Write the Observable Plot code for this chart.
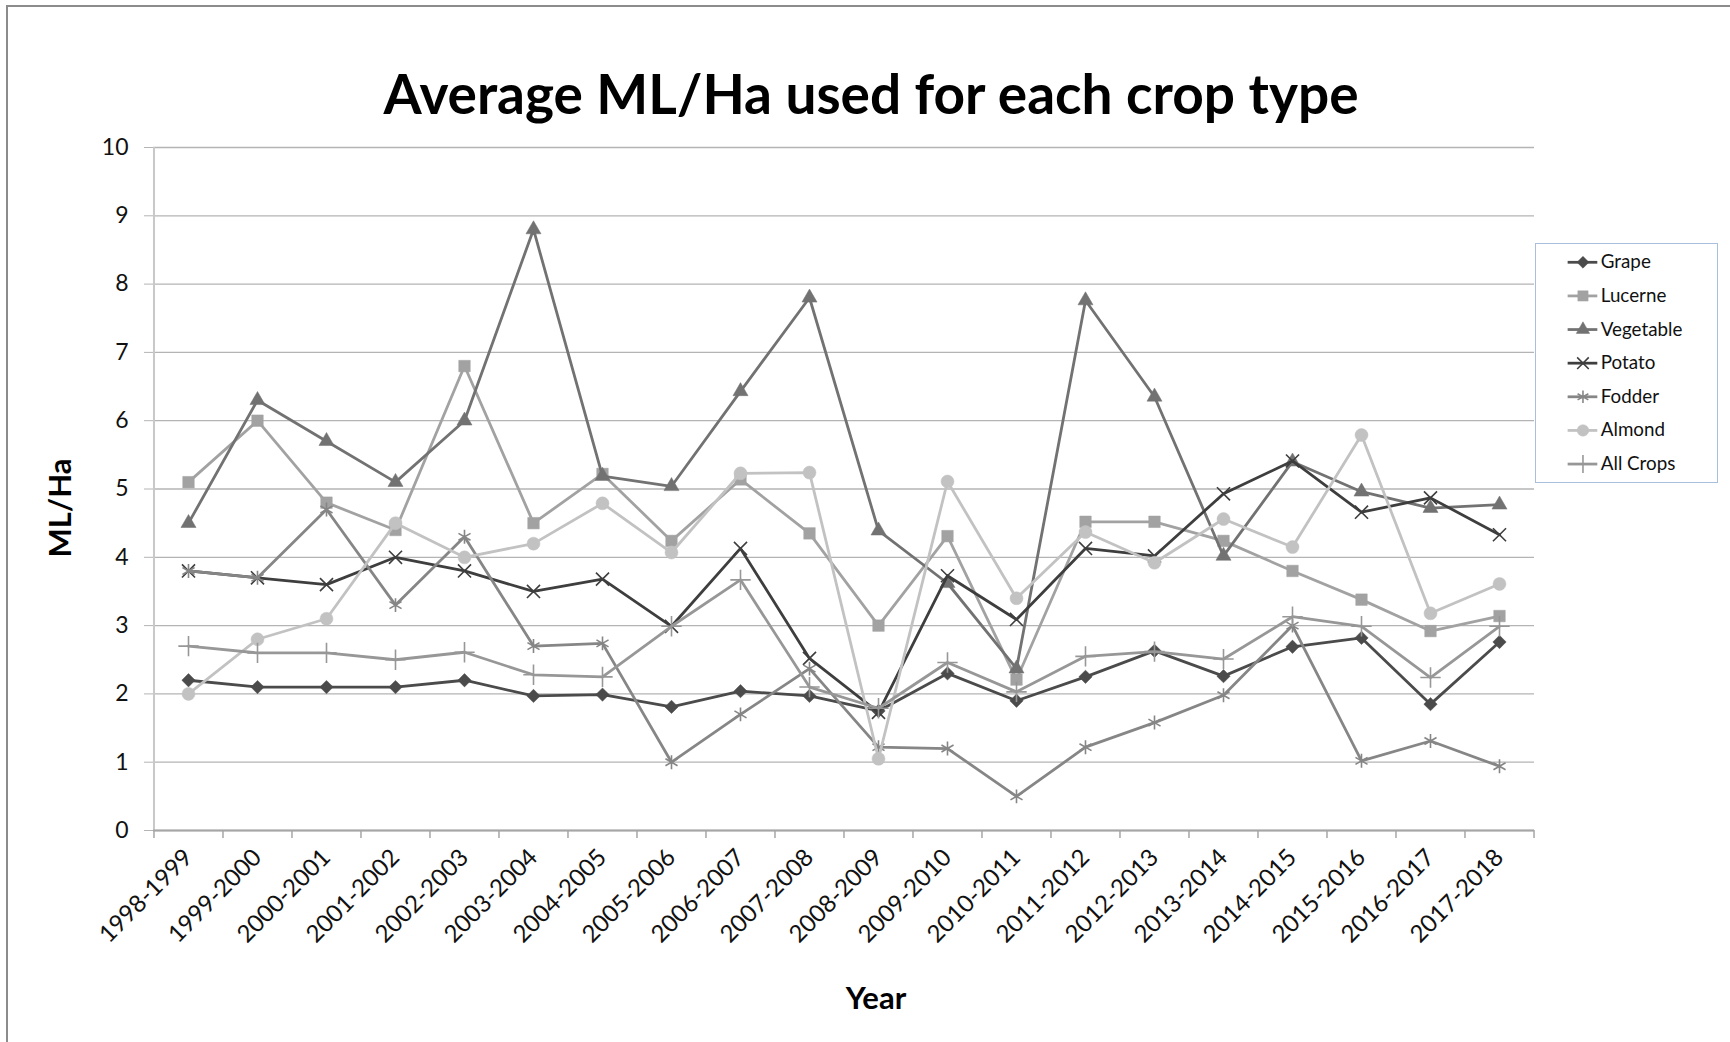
<!DOCTYPE html>
<html>
<head>
<meta charset="utf-8">
<script src="https://cdn.jsdelivr.net/npm/d3@7"></script>
<script src="https://cdn.jsdelivr.net/npm/@observablehq/plot@0.6"></script>
<style>
  html, body { margin: 0; padding: 0; background: #fff; overflow: hidden; }
  #wrap { position: relative; width: 1730px; height: 1042px; font-family: Lato, "Open Sans", sans-serif; }
  #frame { position: absolute; left: 6px; top: 5px; width: 1800px; height: 1100px; border: 2px solid #8c8c8c; box-sizing: border-box; }
  #chart { position: absolute; left: 0; top: 0; }
  .title { position: absolute; left: 871px; top: 66px; transform: translateX(-50%); font-size: 55px; font-weight: 700; line-height: 55px; white-space: nowrap; color: #000; }
  .ylab { position: absolute; left: 59px; top: 508px; transform: translate(-50%, -50%) rotate(-90deg); font-size: 31px; font-weight: 700; white-space: nowrap; color: #000; }
  .xlab { position: absolute; left: 876px; top: 997px; transform: translate(-50%, -50%); font-size: 31px; font-weight: 700; white-space: nowrap; color: #000; }
  #legend { position: absolute; left: 1535px; top: 243px; width: 183px; height: 240px; border: 1.5px solid #a9bfdc; box-sizing: border-box; background: #fff; }
  #legend svg { position: absolute; left: -1.5px; top: -1.5px; }
</style>
</head>
<body>
<div id="wrap">
  <div id="frame"></div>
  <div id="chart"></div>
  <div class="title">Average ML/Ha used for each crop type</div>
  <div class="ylab">ML/Ha</div>
  <div class="xlab">Year</div>
  <div id="legend"></div>
</div>
<script>
const years = ["1998-1999","1999-2000","2000-2001","2001-2002","2002-2003","2003-2004","2004-2005","2005-2006","2006-2007","2007-2008","2008-2009","2009-2010","2010-2011","2011-2012","2012-2013","2013-2014","2014-2015","2015-2016","2016-2017","2017-2018"];

const seriesNames = ["Grape","Lucerne","Vegetable","Potato","Fodder","Almond","All Crops"];

const grape     = [2.20, 2.10, 2.10, 2.10, 2.20, 1.97, 1.99, 1.81, 2.04, 1.97, 1.75, 2.30, 1.90, 2.25, 2.63, 2.26, 2.69, 2.82, 1.85, 2.76];
const lucerne   = [5.10, 6.00, 4.80, 4.40, 6.80, 4.50, 5.22, 4.24, 5.14, 4.35, 3.00, 4.31, 2.21, 4.52, 4.52, 4.24, 3.80, 3.38, 2.92, 3.14];
const vegetable = [4.50, 6.30, 5.70, 5.10, 6.00, 8.80, 5.19, 5.04, 6.43, 7.80, 4.39, 3.62, 2.37, 7.76, 6.35, 4.02, 5.40, 4.96, 4.72, 4.77];
const potato    = [3.80, 3.70, 3.60, 4.00, 3.80, 3.50, 3.68, 2.99, 4.13, 2.52, 1.73, 3.73, 3.09, 4.13, 4.02, 4.93, 5.41, 4.66, 4.87, 4.33];
const fodder    = [3.80, 3.70, 4.70, 3.30, 4.30, 2.70, 2.74, 1.00, 1.70, 2.37, 1.22, 1.20, 0.50, 1.22, 1.58, 1.98, 3.00, 1.02, 1.31, 0.94];
const almond    = [2.00, 2.80, 3.10, 4.50, 4.00, 4.20, 4.79, 4.07, 5.23, 5.24, 1.05, 5.11, 3.40, 4.37, 3.92, 4.56, 4.15, 5.79, 3.18, 3.61];
const allCrops  = [2.70, 2.60, 2.60, 2.50, 2.61, 2.28, 2.25, 2.99, 3.67, 2.10, 1.79, 2.46, 2.03, 2.55, 2.62, 2.51, 3.13, 2.99, 2.24, 2.99];

const yTicks = [0,1,2,3,4,5,6,7,8,9,10];

// styles per series
const colors  = ["#4b4b4b","#a2a2a2","#727272","#3e3e3e","#868686","#c2c2c2","#979797"];
const symbols = ["diamond2","square","triangle","times","asterisk","circle","plus"];
const filled  = [true, true, true, false, false, true, false];
const radii   = [6.0, 6.5, 5.6, 6.0, 6.6, 6.5, 6.6];

const valuesBySeries = [grape, lucerne, vegetable, potato, fodder, almond, allCrops];
const data = seriesNames.flatMap((name, s) => years.map((year, i) => ({series: name, year, value: valuesBySeries[s][i]})));

const W = 1730, H = 1042, mL = 153, mR = 196, mT = 147, mB = 212;
const step = (W - mL - mR) / years.length;
const plotH = H - mT - mB;

const colorScale = {domain: seriesNames, range: colors};

const seriesMarks = seriesNames.flatMap((name, s) => {
  const d = data.filter(r => r.series === name);
  return [
    Plot.line(d, {x: "year", y: "value", stroke: "series", strokeWidth: 2.8, strokeLinejoin: "round"}),
    Plot.dot(d, {x: "year", y: "value", symbol: symbols[s], r: radii[s],
      fill: filled[s] ? "series" : "none", stroke: "series", strokeWidth: filled[s] ? 0.5 : 1.6})
  ];
});

const chart = Plot.plot({
  width: W, height: H,
  marginLeft: mL, marginRight: mR, marginTop: mT, marginBottom: mB,
  style: {fontFamily: "Lato, 'Open Sans', sans-serif", fontSize: "23px", color: "#111", background: "transparent"},
  x: {type: "point", domain: years, padding: 0.5},
  y: {domain: [0, 10]},
  color: colorScale,
  marks: [
    Plot.gridY(yTicks, {stroke: "#b4b4b4", strokeOpacity: 1, strokeWidth: 1.3}),
    // vertical axis line at the left edge of the first category band
    Plot.ruleX([years[0]], {dx: -step / 2, stroke: "#c8c8c8", strokeWidth: 2}),
    // category boundary ticks
    Plot.ruleX(years, {dx: -step / 2, insetTop: plotH, insetBottom: -8, stroke: "#a6a6a6", strokeWidth: 1.5}),
    Plot.ruleX([years[years.length - 1]], {dx: step / 2, insetTop: plotH, insetBottom: -8, stroke: "#a6a6a6", strokeWidth: 1.5}),
    Plot.ruleY([0], {stroke: "#a6a6a6", strokeWidth: 2}),
    Plot.axisY({ticks: yTicks, tickSize: 9, tickPadding: 16, stroke: "#b4b4b4", fontSize: 23, label: null, tickFormat: d => String(d)}),
    Plot.axisX({tickSize: 0, tickRotate: -45, tickPadding: 23, fontSize: 24, label: null}),
    ...seriesMarks
  ]
});
document.getElementById("chart").append(chart);

// legend
const legend = Plot.plot({
  width: 183, height: 240,
  margin: 0,
  style: {fontFamily: "Lato, 'Open Sans', sans-serif", fontSize: "19px", color: "#111", background: "transparent", overflow: "visible"},
  x: {type: "identity", axis: null},
  y: {type: "point", domain: seriesNames, range: [17, 225], padding: 0, axis: null},
  color: colorScale,
  marks: [
    Plot.ruleY(seriesNames, {y: d => d, x1: 33, x2: 63, stroke: d => d, strokeWidth: 2.8}),
    ...seriesNames.map((name, s) => Plot.dot([name], {y: d => d, x: 48, symbol: symbols[s], r: radii[s] * 0.9,
      fill: filled[s] ? d => d : "none", stroke: d => d, strokeWidth: filled[s] ? 0.5 : 1.6})),
    Plot.text(seriesNames, {y: d => d, x: 66, text: d => d, textAnchor: "start", fill: "#111", fontSize: 19})
  ]
});
document.getElementById("legend").append(legend);
</script>
</body>
</html>
